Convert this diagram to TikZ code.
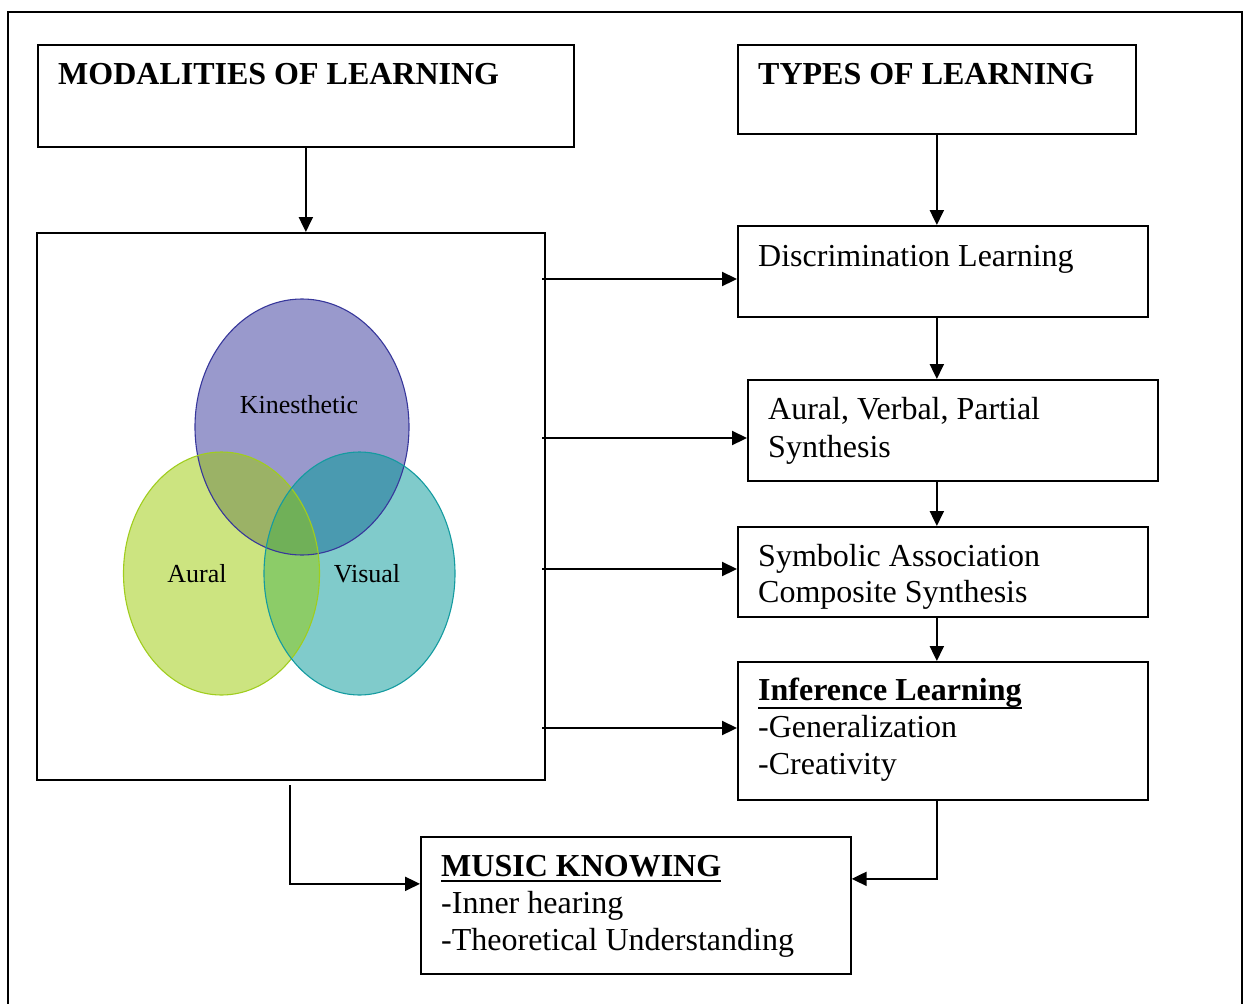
\documentclass[tikz,border=0pt]{standalone}
\usepackage{fontspec}
\setmainfont{Liberation Serif}
\usetikzlibrary{arrows.meta}
\definecolor{kfill}{RGB}{153,153,204}
\definecolor{afill}{RGB}{204,228,128}
\definecolor{vfill}{RGB}{128,203,203}
\definecolor{kafill}{RGB}{155,178,102}
\definecolor{kvfill}{RGB}{74,154,176}
\definecolor{avfill}{RGB}{140,204,104}
\definecolor{kavfill}{RGB}{112,176,88}
\definecolor{kline}{RGB}{55,55,155}
\definecolor{aline}{RGB}{160,205,30}
\definecolor{vline}{RGB}{20,155,160}
\begin{document}
\begin{tikzpicture}[x=1pt,y=-1pt,
  box/.style={draw, line width=1.7pt, anchor=north west, inner sep=0pt},
  txt/.style={anchor=base west, inner sep=0pt, font=\fontsize{32}{37}\selectfont},
  vlab/.style={anchor=base, inner sep=0pt, font=\fontsize{26}{30}\selectfont},
  arr/.style={line width=2.2pt, -{Triangle[length=15pt,width=14pt]}},
  uline/.style={line width=2pt}]
\useasboundingbox (0,0) rectangle (1245,1004);
% outer frame
\draw[line width=1.5pt] (8,1004) -- (8,12) -- (1242,12) -- (1242,1004);

% boxes
\node[box, minimum width=536pt, minimum height=102pt] (mod) at (37,44) {};
\node[box, minimum width=398pt, minimum height=89pt] (types) at (737,44) {};
\node[box, minimum width=508pt, minimum height=547pt] (big) at (36,232) {};
\node[box, minimum width=410pt, minimum height=91pt] (disc) at (737,225) {};
\node[box, minimum width=410pt, minimum height=101pt] (aur) at (747,379) {};
\node[box, minimum width=410pt, minimum height=90pt] (sym) at (737,526) {};
\node[box, minimum width=410pt, minimum height=138pt] (inf) at (737,661) {};
\node[box, minimum width=430pt, minimum height=137pt] (music) at (420,836) {};

% texts
\node[txt] (modt) at (58,84) {\bfseries MODALITIES OF LEARNING};
\node[txt] (typest) at (758,84) {\bfseries TYPES OF LEARNING};
\node[txt] (disct) at (758,266) {Discrimination Learning};
\node[txt] (aurt1) at (768,419) {Aural, Verbal, Partial};
\node[txt] (aurt2) at (768,457) {Synthesis};
\node[txt] (symt1) at (758,566) {Symbolic Association};
\node[txt] (symt2) at (758,602) {Composite Synthesis};
\node[txt] (inft1) at (758,700) {\bfseries Inference Learning};
\node[txt] (inft2) at (758,737) {-Generalization};
\node[txt] (inft3) at (758,774) {-Creativity};
\node[txt] (must1) at (441,876) {\bfseries MUSIC KNOWING};
\node[txt] (must2) at (441,913) {-Inner hearing};
\node[txt] (must3) at (441,950) {-Theoretical Understanding};
\draw[uline] ([yshift=-8pt]inft1.base west) -- ([yshift=-8pt]inft1.base east);
\draw[uline] ([yshift=-4.5pt]must1.base west) -- ([yshift=-4.5pt]must1.base east);

% Venn
\fill[kfill] (302,427) ellipse [x radius=107pt, y radius=128pt];
\fill[afill] (221.5,573.5) ellipse [x radius=98pt, y radius=121.5pt];
\fill[vfill] (359.5,573.5) ellipse [x radius=95.5pt, y radius=121.5pt];
\begin{scope}
  \clip (302,427) ellipse [x radius=107pt, y radius=128pt];
  \fill[kafill] (221.5,573.5) ellipse [x radius=98pt, y radius=121.5pt];
  \fill[kvfill] (359.5,573.5) ellipse [x radius=95.5pt, y radius=121.5pt];
\end{scope}
\begin{scope}
  \clip (221.5,573.5) ellipse [x radius=98pt, y radius=121.5pt];
  \fill[avfill] (359.5,573.5) ellipse [x radius=95.5pt, y radius=121.5pt];
\end{scope}
\begin{scope}
  \clip (302,427) ellipse [x radius=107pt, y radius=128pt];
  \clip (221.5,573.5) ellipse [x radius=98pt, y radius=121.5pt];
  \fill[kavfill] (359.5,573.5) ellipse [x radius=95.5pt, y radius=121.5pt];
\end{scope}
\draw[kline, line width=1.1pt] (302,427) ellipse [x radius=107pt, y radius=128pt];
\draw[aline, line width=1.1pt] (221.5,573.5) ellipse [x radius=98pt, y radius=121.5pt];
\draw[vline, line width=1.1pt] (359.5,573.5) ellipse [x radius=95.5pt, y radius=121.5pt];
\node[vlab] (kin) at (299,413) {Kinesthetic};
\node[vlab] (aurl) at (197,582) {Aural};
\node[vlab] (vis) at (367,582) {Visual};

% vertical connectors
\draw[arr] (mod.south) -- (mod.south |- big.north);
\draw[arr] (types.south) -- (types.south |- disc.north);
\draw[arr] (types.south |- disc.south) -- (types.south |- aur.north);
\draw[arr] (types.south |- aur.south) -- (types.south |- sym.north);
\draw[arr] (types.south |- sym.south) -- (types.south |- inf.north);

% horizontal connectors
\coordinate (h1) at (542,279);
\coordinate (h2) at (542,438);
\coordinate (h3) at (542,569);
\coordinate (h4) at (542,728);
\draw[arr] (h1) -- (h1 -| disc.west);
\draw[arr] (h2) -- (h2 -| aur.west);
\draw[arr] (h3) -- (h3 -| sym.west);
\draw[arr] (h4) -- (h4 -| inf.west);

% bottom connectors
\coordinate (b1) at (290,785);
\draw[arr] (b1) |- ([yshift=21.5pt]music.west);
\draw[arr] (types.south |- inf.south) |- ([yshift=26.5pt]music.east);
\end{tikzpicture}
\end{document}
